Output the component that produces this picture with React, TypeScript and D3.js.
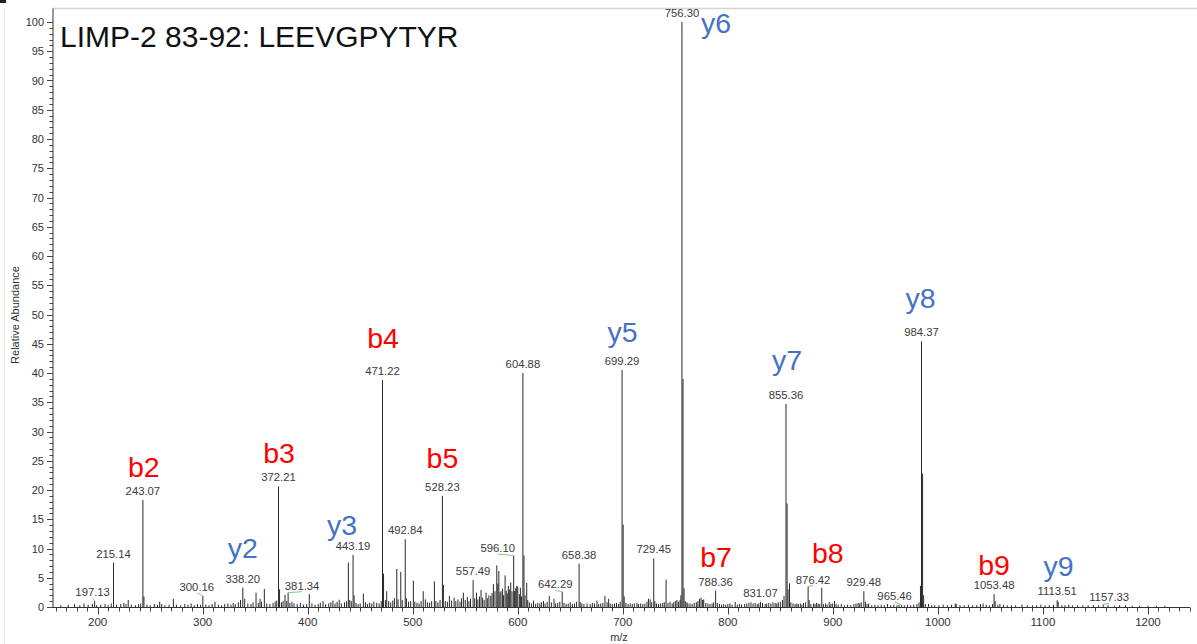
import React from "react";
import * as d3 from "d3";

// Annotated fragment peaks (m/z and relative abundance, %)
const labeledMz = [
  197.13, 215.14, 243.07, 300.16, 338.2, 372.21, 381.34, 443.19, 471.22, 492.84,
  528.23, 557.49, 596.1, 604.88, 642.29, 658.38, 699.29, 729.45, 756.3, 788.36,
  831.07, 855.36, 876.42, 929.48, 965.46, 984.37, 1053.48, 1113.51, 1157.33,
];
const labeledAbundance = [
  1.0, 7.6, 18.3, 1.9, 3.3, 20.6, 2.45, 8.9, 38.8, 11.6,
  19.0, 4.6, 8.8, 40.0, 2.6, 7.4, 40.5, 8.3, 100, 2.8,
  0.9, 34.7, 3.5, 2.7, 0.35, 45.4, 2.2, 1.15, 0.45,
];

// Unlabelled peaks and baseline noise: [m/z, relative abundance]
const minorPeaks: [number, number][] = [
  [165, 0.3], [172, 0.4], [178, 0.5], [183, 0.3], [187, 0.6], [191, 0.4], [195, 0.5], [199, 0.3],
  [203, 0.4], [207, 0.5], [210, 0.3], [213, 0.6], [218, 0.4], [222, 0.5], [225, 0.7], [227, 0.5],
  [229.1, 1.2], [232, 0.4], [236, 0.3], [239, 0.5], [241, 0.6], [244.07, 1.8], [247, 0.4], [250, 0.3],
  [254, 0.5], [257, 0.4], [259.1, 0.9], [261, 0.5], [264, 0.3], [268, 0.4], [272.1, 1.4], [275, 0.4],
  [279, 0.3], [283, 0.5], [286, 0.4], [289, 0.6], [292, 0.3], [295, 0.5], [298, 0.4], [303, 0.4],
  [306, 0.3], [309, 0.5], [311.7, 0.9], [315, 0.4], [318, 0.3], [321, 0.5], [324, 0.6], [327, 0.4],
  [329.1, 0.7], [331, 0.5], [334, 0.8], [336, 1.2], [340, 1.4], [343, 0.6], [346, 0.5], [348, 0.8],
  [350.8, 2.45], [353, 0.7], [354.6, 1.4], [356, 0.9], [358.7, 3.1], [361, 0.6], [364, 0.5], [367, 0.7],
  [369, 0.9], [370.5, 1.1], [373.2, 3.0], [375, 0.8], [376.5, 1.0], [378.4, 2.1], [380, 1.0], [383, 0.7],
  [385, 0.9], [387, 0.6], [390, 0.5], [393, 0.7], [396, 0.4], [399, 0.5], [401.5, 2.2], [404, 0.6],
  [407, 0.4], [410, 0.5], [412, 0.7], [414.6, 1.0], [417, 0.5], [420, 0.6], [422, 0.8], [424, 1.1],
  [426, 0.6], [428, 0.9], [430, 1.25], [432, 0.6], [435, 0.8], [437, 1.0], [438.7, 7.6], [440, 1.2],
  [441.5, 1.0], [444.2, 2.0], [446, 0.7], [448, 0.5], [450, 0.6], [453, 2.3], [455, 0.8], [457, 0.5],
  [459, 0.7], [461, 0.6], [463, 0.9], [465.7, 0.7], [468, 0.6], [470, 1.0], [472.2, 5.7], [474, 1.2],
  [475.2, 2.7], [477, 1.0], [479, 0.8], [481, 1.1], [482.5, 1.5], [484.8, 6.5], [486, 1.3], [488.6, 6.0],
  [490, 1.2], [494, 1.5], [496, 0.9], [498, 1.0], [500.6, 4.5], [502, 0.9], [504, 0.7], [506, 0.6],
  [508, 1.0], [510, 2.7], [512, 1.3], [514, 0.8], [516, 0.7], [518, 1.0], [520.6, 4.4], [522, 1.0],
  [524, 0.8], [526, 1.2], [529.2, 3.8], [531, 1.0], [533, 0.9], [534.9, 1.9], [537, 1.1], [539.4, 1.6],
  [541, 1.0], [543, 1.3], [545, 0.9], [546.5, 1.5], [548.2, 2.45], [550, 1.2], [552, 1.7], [553.5, 1.0],
  [555, 1.4], [559, 1.5], [560.7, 2.45], [562, 1.3], [563.5, 1.8], [565, 2.9], [566.5, 1.6], [568, 1.2],
  [569.8, 2.45], [571, 1.5], [572.5, 2.0], [574.3, 1.9], [575.5, 2.4], [576.8, 3.9], [578.3, 2.7], [580, 7.1],
  [581, 4.0], [582, 6.15], [583, 2.5], [584, 2.7], [585.5, 3.1], [586.5, 2.0], [587.9, 5.4], [589, 2.8],
  [590, 2.3], [591, 3.6], [592, 3.0], [593.3, 4.2], [594.5, 2.7], [597, 2.7], [598, 3.2], [599, 3.6],
  [600, 3.5], [601.5, 2.2], [602.5, 3.3], [603.5, 1.8], [605.9, 8.8], [606.9, 2.0], [608.5, 4.1], [609.5, 1.2],
  [611, 0.8], [613, 0.6], [615, 1.1], [617, 0.5], [619, 0.7], [621, 0.6], [622.5, 0.8], [624.5, 1.0],
  [626, 0.6], [628, 0.9], [630, 1.9], [632, 0.8], [634.5, 1.4], [636, 0.6], [638, 0.7], [640, 0.9],
  [644, 0.7], [646, 0.5], [648, 0.6], [650, 0.8], [652, 0.5], [654, 0.6], [656, 0.9], [659.4, 0.85],
  [661, 0.6], [663, 0.5], [666, 0.6], [669, 0.5], [671, 0.7], [673, 0.6], [675.4, 1.1], [677, 0.5],
  [679, 0.6], [681, 0.7], [683, 1.9], [685, 0.8], [686.5, 1.4], [688, 0.6], [690, 0.5], [692, 0.6],
  [694, 0.7], [696, 0.5], [697.5, 0.9], [700.3, 14.1], [701.3, 1.8], [703, 0.7], [705, 0.5], [707, 0.6],
  [709, 0.5], [711, 0.6], [713.5, 0.7], [715, 0.5], [717, 0.6], [719, 0.5], [721, 0.6], [723, 0.9],
  [724.4, 1.4], [726, 1.3], [727.5, 0.8], [730.5, 1.0], [732, 0.6], [734, 0.5], [736, 0.6], [738, 0.7],
  [739.5, 0.8], [741.2, 4.7], [743, 0.7], [745, 0.9], [747, 0.6], [748.5, 0.8], [750, 1.0], [751.5, 1.2],
  [753, 0.9], [754.5, 1.2], [755.3, 2.0], [757.3, 39], [758.3, 3.2], [759.5, 1.0], [761, 0.8], [762, 0.6],
  [764, 0.6], [766, 0.5], [768, 0.7], [770, 0.8], [771.5, 1.0], [773, 1.4], [774.5, 1.6], [776, 1.2],
  [777, 1.3], [779, 0.7], [781, 0.6], [783, 0.5], [785, 0.6], [786.5, 0.8], [790, 0.7], [792, 0.5],
  [794, 0.4], [796, 0.5], [798, 0.4], [800, 0.5], [802, 0.6], [804, 0.4], [807, 0.85], [809, 0.4],
  [811, 0.5], [813, 0.4], [816, 0.5], [818, 0.6], [820, 0.7], [822, 0.8], [824, 0.6], [826, 0.7],
  [828, 0.5], [829.5, 0.6], [833, 0.7], [835.5, 0.5], [837, 0.6], [839, 0.7], [841, 0.6], [843, 0.8],
  [845, 0.7], [846.6, 0.6], [848, 0.8], [850, 0.9], [852, 1.2], [853.5, 1.9], [856.4, 17.7], [857.3, 3.0],
  [858.7, 4.05], [860, 0.8], [862, 0.6], [864, 0.5], [865.7, 0.6], [867, 0.5], [869, 0.6], [870.5, 0.4],
  [872, 0.7], [874, 0.8], [877.4, 1.2], [879, 0.5], [881.6, 0.6], [883, 0.5], [884.5, 0.7], [886, 0.6],
  [887.5, 0.5], [889.4, 3.3], [891, 0.5], [893, 0.6], [894.5, 0.4], [896.5, 0.85], [898, 0.5], [899.5, 0.6],
  [901.5, 1.0], [903, 0.5], [905, 0.4], [908, 0.5], [911, 0.3], [914, 0.4], [917, 0.3], [920, 0.5],
  [922, 0.6], [924, 0.7], [925.5, 0.6], [927, 0.8], [931, 0.9], [932.5, 0.5], [934, 0.6], [937, 0.3],
  [940, 0.4], [943, 0.3], [946, 0.4], [949, 0.3], [952, 0.5], [955, 0.3], [958, 0.4], [961, 0.3],
  [963, 0.4], [968, 0.3], [971, 0.4], [974, 0.3], [977, 0.4], [980, 0.5], [982, 0.8], [983.4, 3.6],
  [985.4, 22.8], [986.4, 2.0], [988, 0.5], [991, 0.5], [994, 0.3], [997, 0.3], [1001, 0.3], [1005, 0.4],
  [1009, 0.3], [1013, 0.4], [1016.5, 0.6], [1017.5, 0.5], [1021, 0.3], [1025, 0.3], [1029, 0.4], [1033, 0.3],
  [1037, 0.3], [1040.5, 0.5], [1043, 0.6], [1046, 0.4], [1049, 0.3], [1052, 0.5], [1054.5, 1.0], [1057, 0.4],
  [1059, 0.5], [1062.4, 0.4], [1066, 0.3], [1070, 0.3], [1074, 0.3], [1080, 0.4], [1085, 0.3], [1090, 0.3],
  [1094, 0.3], [1098, 0.4], [1102, 0.3], [1106, 0.3], [1110, 0.4], [1114.5, 0.9], [1118, 0.3], [1121, 0.3],
  [1124.6, 0.4], [1128, 0.3], [1133, 0.3], [1138, 0.3], [1143, 0.3], [1148, 0.3], [1153, 0.3], [1162, 0.3],
  [1168, 0.2], [1173, 0.3], [1178.6, 0.3], [1185, 0.2], [1192, 0.2], [1200, 0.2], [1208, 0.2], [1216, 0.2],
];

// b / y fragment ion assignments and the peak each one annotates
const ionNames = ["b2", "b3", "y2", "y3", "b4", "b5", "y5", "y6", "b7", "y7", "b8", "y8", "b9", "y9"];
const ionMz = [243.07, 372.21, 338.2, 443.19, 471.22, 528.23, 699.29, 756.3, 788.36, 855.36, 889.4, 984.37, 1053.48, 1113.51];

// Axis tick values
const yTickValues = [0, 5, 10, 15, 20, 25, 30, 35, 40, 45, 50, 55, 60, 65, 70, 75, 80, 85, 90, 95, 100];
const xTickValues = [200, 300, 400, 500, 600, 700, 800, 900, 1000, 1100, 1200];

const TITLE = "LIMP-2 83-92: LEEVGPYTYR";

// Layout: label nudges in px [dx, dy] for crowded peak labels (drawn with a leader line)
const labelNudge: Record<string, [number, number]> = {
  "197.13": [-2, 0],
  "300.16": [-6, 0],
  "381.34": [14, 2],
  "596.10": [-16, 1.5],
  "642.29": [-7, 1.5],
  "876.42": [5, 2],
  "965.46": [-7, 0],
  "1157.33": [6, 2],
};
// Layout: ion label offsets [dx, dy] from the top of the annotated peak
const ionOffset: Record<string, [number, number]> = {
  b2: [1, -23], b3: [0.5, -23.5], y2: [0, -30], y3: [-11, -20], b4: [0.5, -32],
  b5: [0, -28], y5: [0.5, -28], y6: [34, 11], b7: [0.5, -24], y7: [1, -34],
  b8: [6, -25], y8: [-1, -33], b9: [0, -19], y9: [1.5, -24],
};

const W = 1197;
const H = 644;
const FONT = "'Liberation Sans', Arial, Helvetica, sans-serif";

export default function App() {
  const x = d3.scaleLinear().domain([157.5, 1240]).range([53, 1190]);
  const y = d3.scaleLinear().domain([0, 100]).range([607, 22]);

  const labeled = labeledMz.map((mz, i) => ({ mz, v: labeledAbundance[i], label: mz.toFixed(2) }));
  const sticks = [...minorPeaks.map(([mz, v]) => ({ mz, v })), ...labeled].sort((a, b) => a.v - b.v);
  const allPeaks = [...minorPeaks.map(([mz, v]) => ({ mz, v })), ...labeled];

  const yMinor = d3.range(0, 101, 1);
  const xMinor = d3.range(160, 1241, 10);
  const axisY = y(0) + 0.5;
  const axisX = x.range()[0];

  return (
    <svg
      width={W}
      height={H}
      viewBox={`0 0 ${W} ${H}`}
      style={{ position: "absolute", left: 0, top: 0, display: "block", background: "#fff" }}
      fontFamily={FONT}
    >
      <rect x={0} y={0} width={W} height={H} fill="#fff" />
      {/* frame */}
      <rect x={0} y={0} width={6} height={3} fill="#222" />
      <line x1={4.5} x2={4.5} y1={9} y2={H} stroke="#ececec" strokeWidth={1} />
      <line x1={axisX} x2={W} y1={8.5} y2={8.5} stroke="#d4d4d4" strokeWidth={1.5} />

      {/* spectrum sticks */}
      <g stroke="#2a2a2a" strokeWidth={1}>
        {sticks.map((p, i) => (
          <line key={i} x1={x(p.mz)} x2={x(p.mz)} y1={axisY} y2={y(p.v)} />
        ))}
      </g>

      {/* y axis */}
      <line x1={axisX} x2={axisX} y1={8.5} y2={axisY} stroke="#333" strokeWidth={1} />
      <g stroke="#444" strokeWidth={1}>
        {yMinor.map((v) => {
          const len = v % 5 === 0 ? 6 : 3.5;
          const yy = Math.round(y(v)) + 0.5;
          return <line key={v} x1={axisX - len} x2={axisX} y1={yy} y2={yy} />;
        })}
      </g>
      <g fill="#333" fontSize={11} textAnchor="end">
        {yTickValues.map((v) => (
          <text key={v} x={44} y={y(v)} dominantBaseline="central">
            {v}
          </text>
        ))}
      </g>
      <text
        transform={`translate(15,${315}) rotate(-90)`}
        textAnchor="middle"
        dominantBaseline="central"
        fontSize={11}
        fill="#333"
      >
        Relative Abundance
      </text>

      {/* x axis */}
      <line x1={axisX} x2={x.range()[1]} y1={axisY} y2={axisY} stroke="#333" strokeWidth={1} />
      <g stroke="#444" strokeWidth={1}>
        {xMinor.map((v) => {
          const len = v % 100 === 0 ? 7 : 4;
          const xx = Math.round(x(v)) + 0.5;
          return <line key={v} x1={xx} x2={xx} y1={axisY} y2={axisY + len} />;
        })}
      </g>
      <g fill="#333" fontSize={11.5} textAnchor="middle">
        {xTickValues.map((v) => (
          <text key={v} x={x(v)} y={626}>
            {v}
          </text>
        ))}
      </g>
      <text x={619} y={641} textAnchor="middle" fontSize={11} fill="#333">
        m/z
      </text>

      {/* peak value labels */}
      {labeled.map((p) => {
        const px = x(p.mz);
        const top = y(p.v);
        const nudge = labelNudge[p.label];
        const lx = px + (nudge ? nudge[0] : 0);
        const ly = top - 5 + (nudge ? nudge[1] : 0);
        return (
          <g key={p.label}>
            {nudge && (
              <line x1={lx} y1={ly + 2} x2={px} y2={top} stroke="#7fcf7f" strokeWidth={1} />
            )}
            <text x={lx} y={ly} textAnchor="middle" fontSize={11.3} fill="#3a3a3a">
              {p.label}
            </text>
          </g>
        );
      })}

      {/* fragment ion annotations */}
      {ionNames.map((name, i) => {
        const peak = allPeaks.reduce((best, p) =>
          Math.abs(p.mz - ionMz[i]) < Math.abs(best.mz - ionMz[i]) ? p : best
        );
        const [dx, dy] = ionOffset[name];
        return (
          <text
            key={name}
            x={x(peak.mz) + dx}
            y={y(peak.v) + dy}
            textAnchor="middle"
            fontSize={28.5}
            fill={name.startsWith("b") ? "#ff0000" : "#4472c4"}
          >
            {name}
          </text>
        );
      })}

      {/* title */}
      <text x={60} y={47} fontSize={30} fill="#111">
        {TITLE}
      </text>
    </svg>
  );
}
